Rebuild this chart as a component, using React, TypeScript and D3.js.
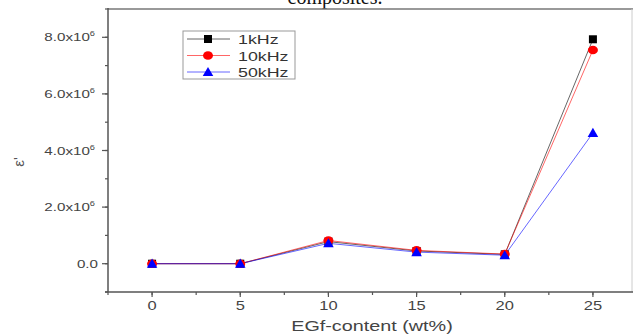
import React from "react";
import * as d3 from "d3";

const xValues = [0, 5, 10, 15, 20, 25];
const series1k = [0.0, 0.0, 0.78e6, 0.45e6, 0.33e6, 7.93e6];
const series10k = [0.0, 0.0, 0.82e6, 0.47e6, 0.34e6, 7.55e6];
const series50k = [0.0, 0.0, 0.72e6, 0.41e6, 0.3e6, 4.62e6];
const seriesNames = ["1kHz", "10kHz", "50kHz"];
const seriesColors = ["#000000", "#ff0000", "#0000ff"];
const seriesMarkers = ["square", "circle", "triangle"];
const xTicks = [0, 5, 10, 15, 20, 25];
const yTickMantissa = ["0.0", "2.0x10", "4.0x10", "6.0x10", "8.0x10"];
const yTickValues = [0, 2e6, 4e6, 6e6, 8e6];

const W = 633;
const H = 335;
const left = 108;
const right = 637;
const top = 9;
const bottom = 292;
const SX = 1.32;

function Marker({ type, x, y, color }: { type: string; x: number; y: number; color: string }) {
  if (type === "square") return <rect x={x - 4} y={y - 4} width={8} height={8} fill={color} />;
  if (type === "circle") return <ellipse cx={x} cy={y} rx={5} ry={4.3} fill={color} />;
  const s = d3.symbol().type(d3.symbolTriangle).size(48)();
  return <path d={s || ""} transform={`translate(${x},${y + 1})`} fill={color} />;
}

function SText({ x, y, anchor, size, fill, children }: any) {
  return (
    <text
      transform={`translate(${x},${y}) scale(${SX},1)`}
      textAnchor={anchor}
      fontSize={size}
      fill={fill}
    >
      {children}
    </text>
  );
}

export default function App() {
  const x = d3.scaleLinear().domain([-2.5, 27.5]).range([left, right]);
  const y = d3.scaleLinear().domain([-1e6, 9e6]).range([bottom, top]);
  const all = [series1k, series10k, series50k];
  const line = d3
    .line<number>()
    .x((_, i) => x(xValues[i]))
    .y((d) => y(d));
  const xMinor = d3.range(-2.5, 27.6, 2.5);
  const yMinor = d3.range(-1e6, 9.01e6, 1e6);
  const font = "Arial, 'Liberation Sans', sans-serif";
  return (
    <svg
      width={W}
      height={H}
      style={{ position: "absolute", left: 0, top: 0, background: "#fff" }}
      fontFamily={font}
    >
      <rect x={0} y={0} width={W} height={H} fill="#fff" />
      <text
        x={335}
        y={4}
        textAnchor="middle"
        fontFamily="'Liberation Serif', 'Times New Roman', serif"
        fontSize={20}
        fill="#111"
      >
        composites.
      </text>
      {/* frame */}
      <line x1={left} x2={right} y1={top} y2={top} stroke="#777" strokeWidth={1.5} />
      <line x1={632} x2={632} y1={top} y2={bottom} stroke="#ccc" strokeWidth={1} />
      {/* axes */}
      <line x1={left} x2={left} y1={top - 1} y2={bottom} stroke="#555" strokeWidth={1.5} />
      <line x1={left - 3} x2={right} y1={bottom} y2={bottom} stroke="#555" strokeWidth={1.5} />
      {yMinor.map((v, i) => (
        <line key={"ym" + i} x1={left - 3} x2={left} y1={y(v)} y2={y(v)} stroke="#555" strokeWidth={1.2} />
      ))}
      {yTickValues.map((v, i) => (
        <line key={"yt" + i} x1={left - 6} x2={left} y1={y(v)} y2={y(v)} stroke="#555" strokeWidth={1.2} />
      ))}
      {xMinor.map((v, i) => (
        <line key={"xm" + i} x1={x(v)} x2={x(v)} y1={bottom} y2={bottom + 3} stroke="#555" strokeWidth={1.2} />
      ))}
      {xTicks.map((v, i) => (
        <line key={"xt" + i} x1={x(v)} x2={x(v)} y1={bottom} y2={bottom + 5} stroke="#555" strokeWidth={1.2} />
      ))}
      {yTickValues.map((v, i) => (
        <SText key={"yl" + i} x={i === 0 ? 98 : 95} y={y(v) + 4} anchor="end" size={11.5} fill="#444">
          {yTickMantissa[i]}
          {i > 0 && (
            <tspan fontSize={7} dy={-5}>
              6
            </tspan>
          )}
        </SText>
      ))}
      {xTicks.map((v, i) => (
        <SText key={"xl" + i} x={x(v)} y={bottom + 18} anchor="middle" size={12.5} fill="#444">
          {v}
        </SText>
      ))}
      <SText x={372} y={331} anchor="middle" size={15} fill="#444">
        EGf-content (wt%)
      </SText>
      <text x={24} y={162} textAnchor="middle" fontSize={15} fill="#555" transform="rotate(-90,24,162)">
        ε'
      </text>
      {/* series */}
      {all.map((s, k) => (
        <path key={"l" + k} d={line(s) || ""} fill="none" stroke={seriesColors[k]} strokeWidth={1} strokeOpacity={0.6} />
      ))}
      {all.map((s, k) =>
        s.map((v, i) => (
          <Marker key={`m${k}-${i}`} type={seriesMarkers[k]} x={x(xValues[i])} y={y(v)} color={seriesColors[k]} />
        ))
      )}
      {/* legend */}
      <rect x={183} y={31} width={112} height={48} fill="#fff" stroke="#999" strokeWidth={1} />
      {seriesNames.map((n, k) => {
        const ly = 39 + k * 16.5;
        return (
          <g key={"lg" + k}>
            <line x1={187} x2={230} y1={ly} y2={ly} stroke={seriesColors[k]} strokeWidth={1} strokeOpacity={0.6} />
            <Marker type={seriesMarkers[k]} x={208} y={ly} color={seriesColors[k]} />
            <SText x={238} y={ly + 5} anchor="start" size={13.5} fill="#333">
              {n}
            </SText>
          </g>
        );
      })}
    </svg>
  );
}
